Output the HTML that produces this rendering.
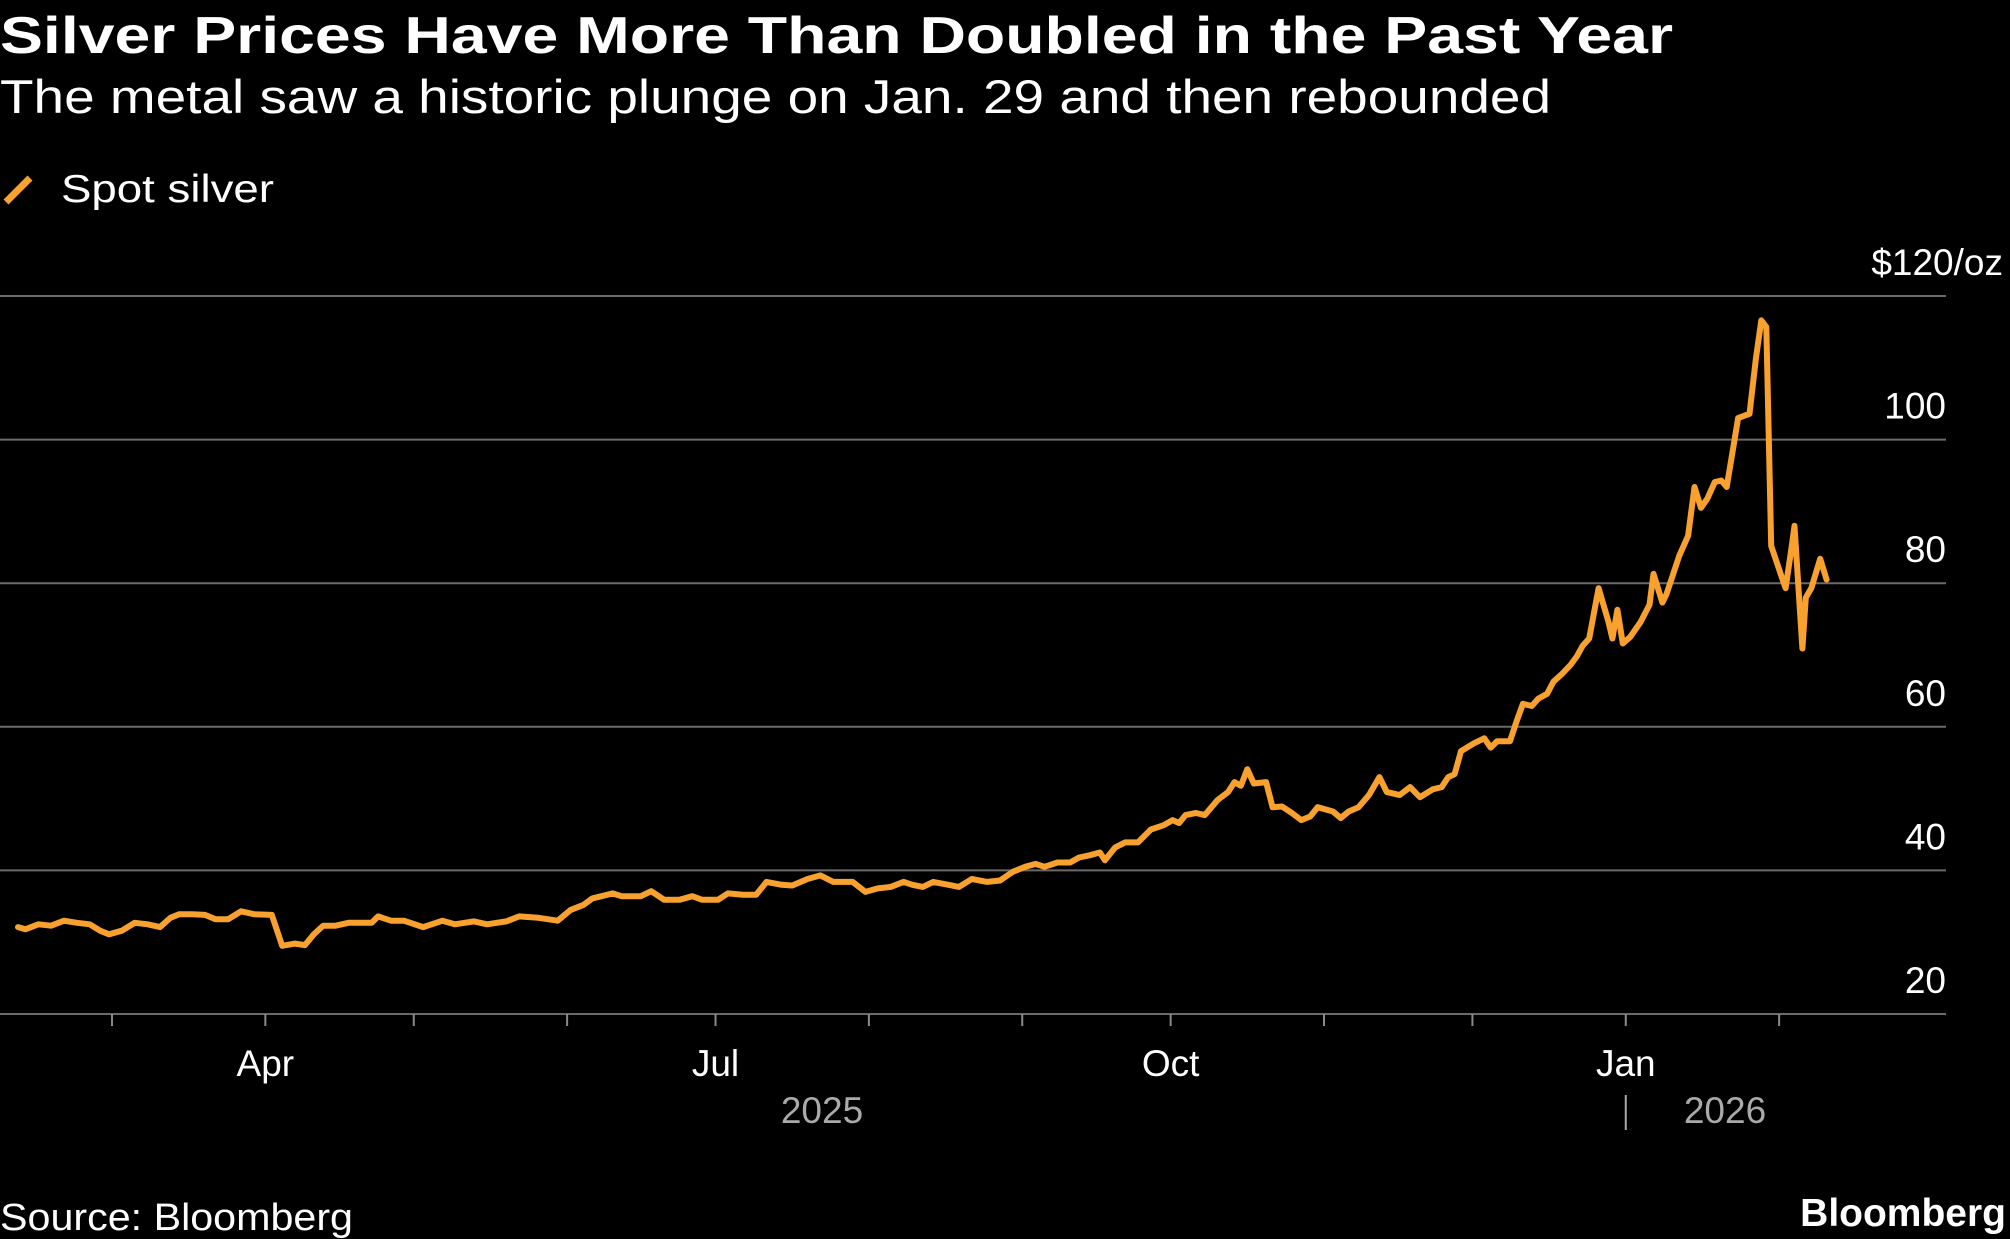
<!DOCTYPE html>
<html><head><meta charset="utf-8">
<style>
html,body{margin:0;padding:0;background:#000;}
svg{display:block;font-family:"Liberation Sans",sans-serif;}
</style></head>
<body>
<svg id="chart" width="2010" height="1239" viewBox="0 0 2010 1239" xmlns="http://www.w3.org/2000/svg">
<rect width="2010" height="1239" fill="#000"/>
<text x="0" y="53" fill="#fff" font-size="52" font-weight="bold" textLength="1673" lengthAdjust="spacingAndGlyphs">Silver Prices Have More Than Doubled in the Past Year</text>
<text x="0" y="113" fill="#fff" font-size="47" textLength="1551" lengthAdjust="spacingAndGlyphs">The metal saw a historic plunge on Jan. 29 and then rebounded</text>
<g>
<line x1="6" y1="202" x2="30" y2="178" stroke="#f9a12e" stroke-width="7"/>
<text x="61" y="202" fill="#fff" font-size="39" textLength="213" lengthAdjust="spacingAndGlyphs">Spot silver</text>
</g>
<g id="grid"></g>
<g id="yaxis"></g>
<g id="xaxis"></g>
<path id="line" fill="none" stroke="#f9a12e" stroke-width="6" stroke-linejoin="round" stroke-linecap="round"/>
<text x="0" y="1230" fill="#fff" font-size="38" textLength="353" lengthAdjust="spacingAndGlyphs">Source: Bloomberg</text>
<text x="2006" y="1226" fill="#fff" font-size="39" font-weight="bold" text-anchor="end">Bloomberg</text>
</svg>
<script>
// days since 2025-02-10
const days = [0,1.5,4.1,6.7,9.3,11.9,14.5,16.6,18.4,21,23.6,26.2,28.7,30.8,32.6,35.2,37.8,39.9,42.5,45.1,47.7,51.3,53.4,56,58,59.8,61.7,64.2,66.8,71.5,72.8,75.4,78,81.9,85.8,88.3,92.2,94.8,98.7,101.3,105.2,109.1,111.7,114.3,116.1,120.2,122,125.9,128,130.6,133.7,136.3,138.3,141.5,143.5,146.6,149.2,151.3,154.4,156.5,159.6,162.2,164.8,168.7,171.3,173.8,176.4,179,180.8,182.9,185,188.1,190.2,192.8,195.9,198.5,201.1,203.6,205.7,207.5,210.1,212.7,214.5,216.6,218.7,219.7,221.8,223.8,226.4,229,231.6,233.4,234.7,236,238.1,239.9,242.5,244.6,245.9,247.2,248.5,249.8,252.3,253.6,255.5,257.5,259.4,261.2,262.7,265.8,267.4,269,271,273.1,275.2,276.7,279.3,281.4,283.4,286,287.8,289.1,290.4,291.7,294.3,296.4,297.7,299,301.6,302.9,304.2,306,307.3,309.1,310.4,312,313.8,315.1,316.3,317.6,319.5,321.5,322.3,323.3,324.4,325.9,328,329.8,330.6,332.4,333.2,335.8,337.6,338.9,340.2,341.5,343,344.3,345.4,346.9,347.7,350,351.3,352.4,353.4,354.4,356.5,357.3,358.6,359.1,360.1,360.7,361.4,362.5,364.3,365.6];
const prices = [32.1,31.8,32.5,32.3,33.0,32.7,32.5,31.6,31.1,31.6,32.7,32.5,32.1,33.4,33.9,33.9,33.8,33.2,33.2,34.3,33.9,33.8,29.5,29.8,29.6,31.1,32.3,32.3,32.7,32.7,33.6,33.0,33.0,32.1,33.0,32.5,32.9,32.5,32.9,33.6,33.4,33.0,34.5,35.2,36.1,36.8,36.4,36.4,37.1,35.9,35.9,36.4,35.9,35.9,36.8,36.6,36.6,38.4,38.0,37.9,38.8,39.3,38.4,38.4,37.0,37.5,37.7,38.4,38.0,37.7,38.4,38.0,37.7,38.8,38.4,38.6,39.8,40.5,40.9,40.5,41.1,41.1,41.8,42.1,42.5,41.4,43.2,43.9,43.9,45.7,46.3,47.0,46.6,47.7,48.0,47.7,49.8,50.9,52.3,51.8,54.1,52.1,52.3,48.8,48.9,48.0,47.0,47.5,48.8,48.2,47.3,48.2,48.8,50.5,53.0,50.9,50.5,51.6,50.2,51.3,51.6,53.0,53.4,56.6,57.7,58.4,57.1,58.0,58.0,60.7,63.2,62.9,63.9,64.6,66.3,67.3,68.6,69.8,71.3,72.3,79.3,74.6,72.3,76.3,71.6,72.5,74.6,77.0,81.3,77.3,78.4,83.8,86.6,93.4,90.5,91.8,94.1,94.3,93.4,99.6,103.0,103.6,111.3,116.6,115.7,85.2,80.9,79.3,85.4,88.0,77.3,70.9,78.0,79.3,83.4,80.5];
const yTicks = [20,40,60,80,100,120];
const yTickLabels = ["20","40","60","80","100","$120/oz"];
const monthTickDays = [19,50,80,111,141,172,203,233,264,294,325,356];
const monthLabels = ["","Apr","","","Jul","","","Oct","","","Jan",""];
const yearLabels = ["2025","2026"];

const NS="http://www.w3.org/2000/svg";
const x = d => 18 + d*4.947;
const y = v => 1014 - (v-20)*7.18;
function mk(tag, attrs, parent){const e=document.createElementNS(NS,tag);for(const k in attrs)e.setAttribute(k,attrs[k]);parent.appendChild(e);return e;}
const grid=document.getElementById('grid'), ya=document.getElementById('yaxis'), xa=document.getElementById('xaxis');
yTicks.forEach((t,i)=>{
  const l=mk('line',{x1:0,x2:1946,y1:y(t),y2:y(t),stroke:'#6a6a6a','stroke-width':2},grid);
  
  
  const tx=mk('text',{x:i===yTicks.length-1?2003:1946,y:y(t)-21,fill:'#fff','font-size':37,'text-anchor':'end'},ya);
  tx.textContent=yTickLabels[i];
  
  
});
monthTickDays.forEach((d,i)=>{
  const l=mk('line',{x1:x(d),x2:x(d),y1:1014,y2:1026,stroke:'#8a8a8a','stroke-width':2},xa);
  
  
  if(monthLabels[i]){
    const t=mk('text',{x:x(d),y:1076,fill:'#fff','font-size':37,'text-anchor':'middle'},xa);
    t.textContent=monthLabels[i];
    
    
  }
});
const y1=mk('text',{x:822,y:1123,fill:'#aaa','font-size':37,'text-anchor':'middle'},xa);
y1.textContent=yearLabels[0];


const sep=mk('line',{x1:x(325),x2:x(325),y1:1095,y2:1130,stroke:'#aaa','stroke-width':2},xa);


const y2=mk('text',{x:1725,y:1123,fill:'#aaa','font-size':37,'text-anchor':'middle'},xa);
y2.textContent=yearLabels[1];


document.getElementById('line').setAttribute('d', days.map((d,i)=>(i?'L':'M')+x(d).toFixed(1)+','+y(prices[i]).toFixed(1)).join(''));
</script>
</body></html>
